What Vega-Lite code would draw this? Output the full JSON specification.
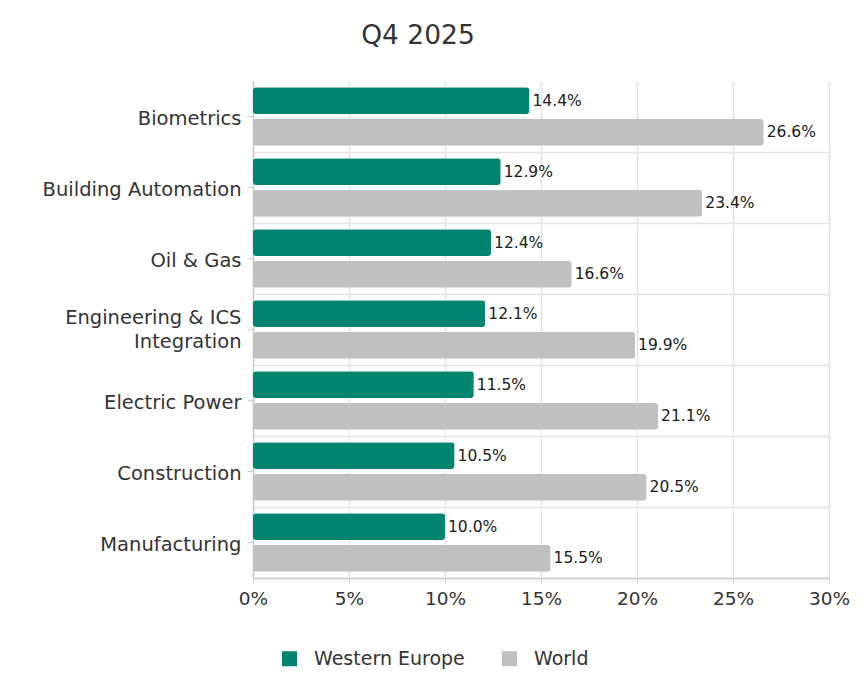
{
  "$schema": "https://vega.github.io/schema/vega-lite/v6.json",
  "autosize": {"type": "none"},
  "padding": {"left": 253, "top": 81, "right": 39, "bottom": 106},
  "width": 576,
  "height": 497,
  "background": "white",
  "config": {
    "view": {"stroke": null},
    "font": "DejaVu Sans",
    "axis": {"labelFont": "DejaVu Sans", "labelColor": "#333333", "titleColor": "#333333"},
    "legend": {"labelFont": "DejaVu Sans"},
    "title": {"font": "DejaVu Sans"}
  },
  "title": {
    "text": "Q4 2025",
    "fontSize": 26.5,
    "fontWeight": "normal",
    "color": "#333333",
    "anchor": "middle",
    "frame": "group",
    "baseline": "alphabetic",
    "offset": 11,
    "dx": -123
  },
  "data": {
    "values": [
      {"industry": "Biometrics", "region": "Western Europe", "share": 0.144},
      {"industry": "Biometrics", "region": "World", "share": 0.266},
      {"industry": "Building Automation", "region": "Western Europe", "share": 0.129},
      {"industry": "Building Automation", "region": "World", "share": 0.234},
      {"industry": "Oil & Gas", "region": "Western Europe", "share": 0.124},
      {"industry": "Oil & Gas", "region": "World", "share": 0.166},
      {"industry": "Engineering & ICS Integration", "region": "Western Europe", "share": 0.121},
      {"industry": "Engineering & ICS Integration", "region": "World", "share": 0.199},
      {"industry": "Electric Power", "region": "Western Europe", "share": 0.115},
      {"industry": "Electric Power", "region": "World", "share": 0.211},
      {"industry": "Construction", "region": "Western Europe", "share": 0.105},
      {"industry": "Construction", "region": "World", "share": 0.205},
      {"industry": "Manufacturing", "region": "Western Europe", "share": 0.100},
      {"industry": "Manufacturing", "region": "World", "share": 0.155}
    ]
  },
  "encoding": {
    "y": {
      "field": "industry",
      "type": "nominal",
      "sort": null,
      "scale": {"paddingInner": 0, "paddingOuter": 0},
      "title": null
    },
    "yOffset": {
      "field": "region",
      "type": "nominal",
      "scale": {"domain": ["Western Europe", "World"], "paddingInner": 0.16, "paddingOuter": 0.2}
    },
    "x": {
      "field": "share",
      "type": "quantitative",
      "scale": {"domain": [0, 0.3], "nice": false},
      "title": null,
      "axis": {
        "values": [0, 0.05, 0.1, 0.15, 0.2, 0.25, 0.3],
        "format": ".0%",
        "labelFontSize": 18.5,
        "labelFlush": false,
        "labelPadding": 6,
        "tickSize": 5,
        "tickColor": "#cccccc",
        "domainColor": "#cccccc",
        "domainWidth": 1.5,
        "gridColor": "#e2e2e2",
        "gridWidth": 1.5
      }
    }
  },
  "layer": [
    {
      "mark": {"type": "bar", "cornerRadius": 3},
      "encoding": {
        "y": {
          "field": "industry",
          "type": "nominal",
          "sort": null,
          "title": null,
          "axis": {
            "labelFontSize": 19.5,
            "labelLimit": 300,
            "labelPadding": 6,
            "labelLineHeight": 24,
            "labelExpr": "datum.label == 'Engineering & ICS Integration' ? ['Engineering & ICS', 'Integration'] : datum.label",
            "labelOffset": {"condition": {"test": "datum.value == 'Engineering & ICS Integration'", "value": -12}, "value": 2},
            "tickSize": 6,
            "tickColor": "#cccccc",
            "domainColor": "#cccccc",
            "domainWidth": 1.5,
            "grid": false
          }
        },
        "color": {
          "field": "region",
          "type": "nominal",
          "scale": {"domain": ["Western Europe", "World"], "range": ["#008470", "#c0c0c0"]},
          "legend": {
            "title": null,
            "orient": "none",
            "direction": "horizontal",
            "legendX": 27,
            "legendY": 568,
            "padding": 0,
            "symbolType": "square",
            "symbolSize": 225,
            "symbolStrokeWidth": 0,
            "labelFontSize": 19,
            "labelColor": "#333333",
            "labelOffset": 15,
            "columnPadding": 35
          }
        }
      }
    },
    {
      "mark": {"type": "text", "align": "left", "baseline": "middle", "dx": 3, "fontSize": 15.5, "color": "#1a1a1a"},
      "encoding": {
        "y": {
          "field": "industry",
          "type": "nominal",
          "sort": null,
          "title": null,
          "axis": {
            "orient": "left",
            "labels": false,
            "ticks": false,
            "domain": false,
            "grid": true,
            "bandPosition": 1,
            "gridColor": "#e2e2e2",
            "gridWidth": 1.5
          }
        },
        "text": {"field": "share", "type": "quantitative", "format": ".1%"}
      }
    }
  ],
  "resolve": {"axis": {"y": "independent"}}
}
